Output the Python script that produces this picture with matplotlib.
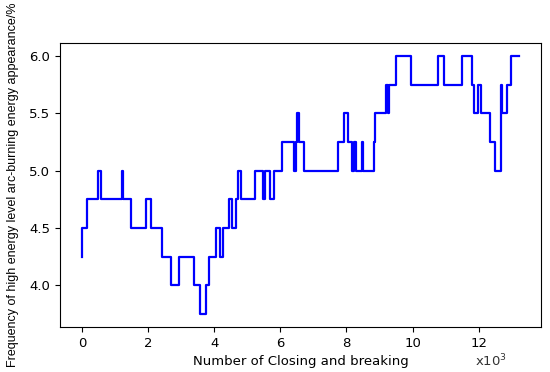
import matplotlib
matplotlib.use("Agg")
import matplotlib.pyplot as plt

# step change points: number of closing/breaking operations (x10^3) and frequency level (%)
ops_k = [0.0, 0.01, 0.16, 0.5, 0.59, 1.2, 1.25, 1.48, 1.95, 2.08, 2.43, 2.71, 2.95,
         3.38, 3.58, 3.76, 3.84, 4.07, 4.19, 4.28, 4.46, 4.53, 4.66, 4.71, 4.8,
         5.23, 5.48, 5.54, 5.7, 5.8, 6.04, 6.41, 6.48, 6.52, 6.58, 6.71, 7.74,
         7.94, 8.04, 8.16, 8.24, 8.3, 8.46, 8.5, 8.84, 8.88, 9.21, 9.26, 9.3,
         9.51, 9.96, 10.76, 10.96, 11.51, 11.8, 11.86, 11.98, 12.08, 12.33,
         12.48, 12.68, 12.72, 12.86, 12.98, 13.23]
freq = [4.25, 4.5, 4.75, 5.0, 4.75, 5.0, 4.75, 4.5, 4.75, 4.5, 4.25, 4.0, 4.25,
        4.0, 3.75, 4.0, 4.25, 4.5, 4.25, 4.5, 4.75, 4.5, 4.75, 5.0, 4.75,
        5.0, 4.75, 5.0, 4.75, 5.0, 5.25, 5.0, 5.25, 5.5, 5.25, 5.0, 5.25,
        5.5, 5.25, 5.0, 5.25, 5.0, 5.25, 5.0, 5.25, 5.5, 5.75, 5.5, 5.75,
        6.0, 5.75, 6.0, 5.75, 6.0, 5.75, 5.5, 5.75, 5.5, 5.25,
        5.0, 5.75, 5.5, 5.75, 6.0, 6.0]

fig = plt.figure(figsize=(5.5, 3.72), dpi=100)
ax = fig.add_axes([0.109, 0.121, 0.875, 0.763])
ax.plot(ops_k, freq, drawstyle='steps-post', color='blue', linewidth=1.6)

ax.set_xticks([0, 2, 4, 6, 8, 10, 12])
ax.set_yticks([4.0, 4.5, 5.0, 5.5, 6.0])
ax.tick_params(labelsize=9.5)
ax.set_xlabel("Number of Closing and breaking", fontsize=9.5)
ax.set_ylabel("Frequency of high energy level arc-burning energy appearance/%",
              fontsize=9, family='Liberation Sans')
ax.yaxis.set_label_coords(-0.085, 0.5)
fig.text(0.864, 0.03, "x10$^3$", fontsize=9.5, color='#333333', va='center')

fig.savefig("out.png", dpi=100)
